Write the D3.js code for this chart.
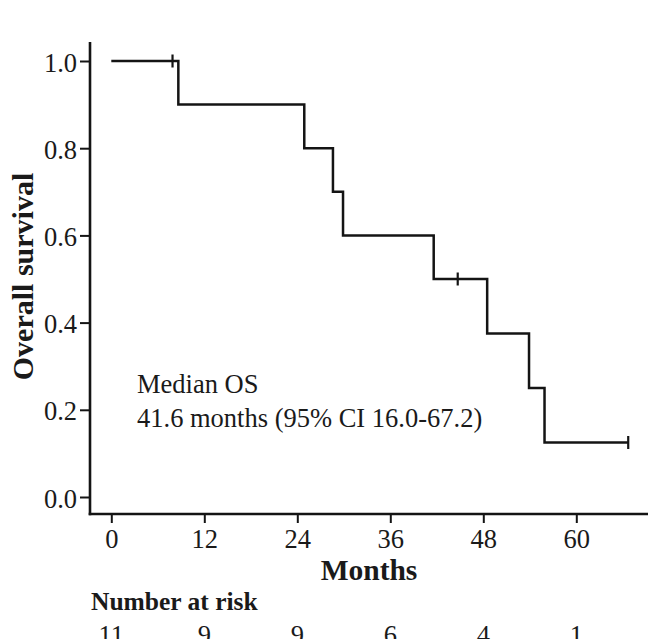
<!DOCTYPE html>
<html>
<head>
<meta charset="utf-8">
<script src="https://cdn.jsdelivr.net/npm/d3@7/dist/d3.min.js"></script>
<style>
  html, body { margin: 0; padding: 0; background: #fff; }
  svg { display: block; }
  text { font-family: "Liberation Serif", "Times New Roman", serif; fill: #1a1a1a; }
</style>
</head>
<body>
<svg id="chart" width="648" height="639"></svg>
<script>
// ---- data ----
const eventTimes = [8.65, 24.9, 28.6, 29.9, 41.6, 48.5, 53.9, 55.9];
const survivalAfter = [0.9, 0.8, 0.7, 0.6, 0.5, 0.375, 0.25, 0.125];
const censorTimes = [7.9, 44.7, 66.7];
const censorSurvival = [1.0, 0.5, 0.125];
const xTicks = [0, 12, 24, 36, 48, 60];
const yTicks = [0.0, 0.2, 0.4, 0.6, 0.8, 1.0];
const atRisk = [11, 9, 9, 6, 4, 1];
const medianLines = ["Median OS", "41.6 months (95% CI 16.0-67.2)"];

// ---- layout ----
const svg = d3.select("#chart");
const ink = "#141414";
const axisX0 = 90, axisY0 = 514, axisTop = 42, axisRight = 648;
const x = d3.scaleLinear().domain([0, 60]).range([111.3, 576.3]);
const y = d3.scaleLinear().domain([0, 1]).range([497, 61]);

// axes lines
svg.append("line").attr("x1", axisX0).attr("x2", axisX0).attr("y1", axisTop).attr("y2", axisY0 + 1.3)
  .attr("stroke", ink).attr("stroke-width", 2.6);
svg.append("line").attr("x1", axisX0 - 1.3).attr("x2", axisRight).attr("y1", axisY0).attr("y2", axisY0)
  .attr("stroke", ink).attr("stroke-width", 2.6);

// y axis
const yAxis = d3.axisLeft(y).tickValues(yTicks).tickFormat(d3.format(".1f")).tickSize(10).tickPadding(3);
const gy = svg.append("g").attr("transform", `translate(${axisX0},0)`).call(yAxis);
gy.select(".domain").remove();
gy.selectAll(".tick line").attr("stroke", ink).attr("stroke-width", 2);
gy.selectAll(".tick text").attr("font-size", 26.5).attr("font-family", "Liberation Serif")
  .attr("fill", ink).attr("dy", 10).attr("x", -13);

// x axis
const xAxis = d3.axisBottom(x).tickValues(xTicks).tickSize(9).tickPadding(0);
const gx = svg.append("g").attr("transform", `translate(0,${axisY0})`).call(xAxis);
gx.select(".domain").remove();
gx.selectAll(".tick line").attr("stroke", ink).attr("stroke-width", 2);
gx.selectAll(".tick text").attr("font-size", 26.5).attr("font-family", "Liberation Serif")
  .attr("fill", ink).attr("dy", 0).attr("y", 34);

// titles
svg.append("text").attr("x", 369).attr("y", 580).attr("text-anchor", "middle")
  .attr("font-size", 29.5).attr("font-weight", "bold").text("Months");
svg.append("text").attr("transform", "translate(33,276.5) rotate(-90)").attr("text-anchor", "middle")
  .attr("font-size", 30).attr("font-weight", "bold").text("Overall survival");

// KM step curve
const pts = [[0, 1]];
let s = 1;
eventTimes.forEach((t, i) => { pts.push([t, s]); s = survivalAfter[i]; pts.push([t, s]); });
pts.push([d3.max(censorTimes), s]);
svg.append("path")
  .attr("d", d3.line().x(d => x(d[0])).y(d => y(d[1]))(pts))
  .attr("fill", "none").attr("stroke", ink).attr("stroke-width", 2.5);

// censor marks
svg.selectAll(".censor").data(censorTimes).enter().append("line")
  .attr("class", "censor")
  .attr("x1", d => x(d)).attr("x2", d => x(d))
  .attr("y1", (d, i) => y(censorSurvival[i]) - 6.5)
  .attr("y2", (d, i) => y(censorSurvival[i]) + 6.5)
  .attr("stroke", ink).attr("stroke-width", 2.2);

// median annotation
svg.selectAll(".median").data(medianLines).enter().append("text")
  .attr("x", 137).attr("y", (d, i) => 392.7 + i * 34).attr("font-size", 26.5).text(d => d);

// number at risk
svg.append("text").attr("x", 91).attr("y", 610).attr("font-size", 25.5).attr("font-weight", "bold")
  .text("Number at risk");
svg.selectAll(".risk").data(atRisk).enter().append("text")
  .attr("x", (d, i) => x(xTicks[i])).attr("y", 644).attr("text-anchor", "middle")
  .attr("font-size", 26.5).text(d => d);
</script>
</body>
</html>
